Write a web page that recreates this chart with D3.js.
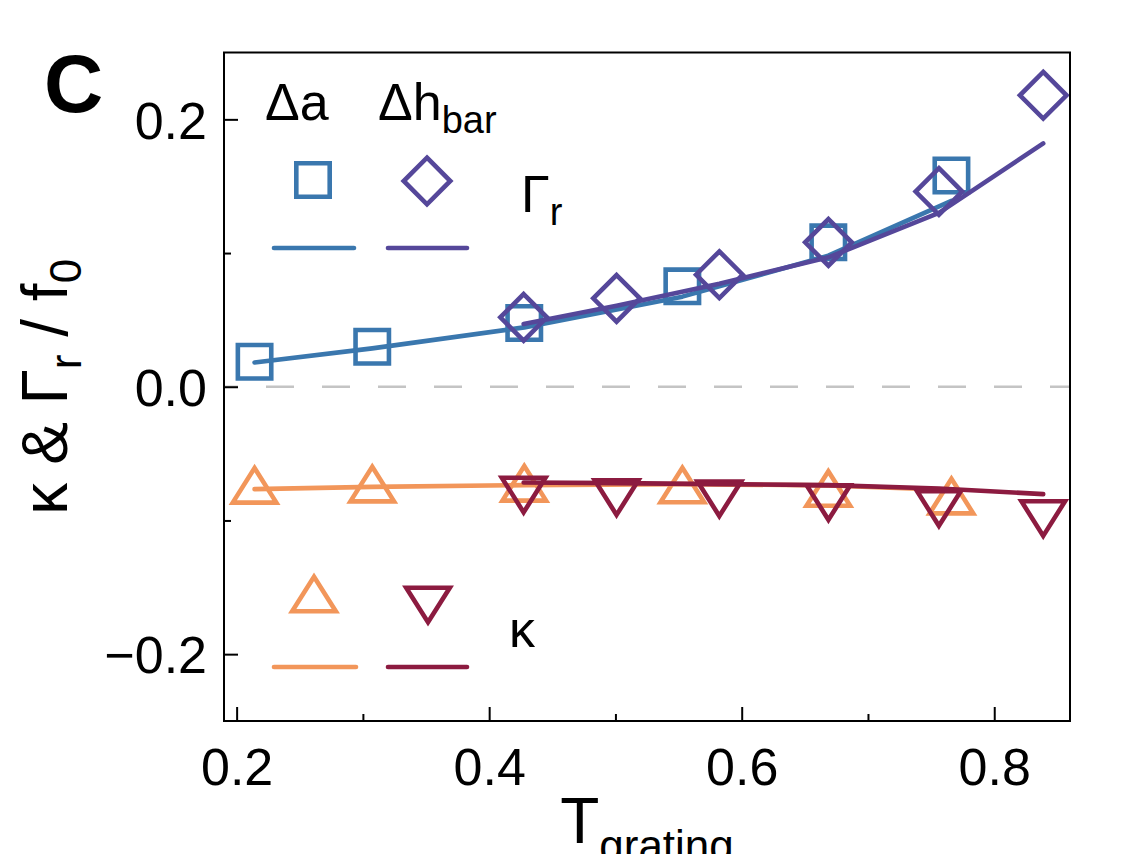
<!DOCTYPE html>
<html>
<head>
<meta charset="utf-8">
<script src="https://cdn.jsdelivr.net/npm/d3@7"></script>
<style>
  html, body { margin: 0; padding: 0; background: #fff; }
  svg { display: block; font-family: "Liberation Sans", Arial, sans-serif; }
</style>
</head>
<body>
<div id="chart"></div>
<script>
// T_grating of the two sweeps
const tA = [0.2142, 0.3074, 0.4278, 0.5530, 0.6686, 0.7661];   // Δa
const tH = [0.4273, 0.5009, 0.5823, 0.6687, 0.7562, 0.8388];   // Δh_bar

// Γr / f0
const gammaA    = [0.0187, 0.0299, 0.0477, 0.0751, 0.1080, 0.1580];
const gammaAFit = [0.0182, 0.0287, 0.0444, 0.0674, 0.0980, 0.1390];
const gammaH    = [0.0519, 0.0661, 0.0838, 0.1080, 0.1460, 0.2180];
const gammaHFit = [0.0469, 0.0606, 0.0771, 0.0968, 0.1300, 0.1820];

// κ / f0
const kappaA    = [-0.0737, -0.0728, -0.0722, -0.0735, -0.0761, -0.0818];
const kappaAFit = [-0.0766, -0.0749, -0.0736, -0.0728, -0.0738, -0.0772];
const kappaH    = [-0.0810, -0.0829, -0.0838, -0.0866, -0.0911, -0.0986];
const kappaHFit = [-0.0716, -0.0721, -0.0728, -0.0736, -0.0761, -0.0803];

const xMajor = [0.2, 0.4, 0.6, 0.8];
const xMinor = [0.3, 0.5, 0.7];
const yMajor = [-0.2, 0.0, 0.2];
const yMinor = [-0.1, 0.1];

const cBlue = "#3a77ae", cPurple = "#55479a", cOrange = "#f2965a", cRed = "#8c1b40";

const W = 1127, H = 854;
const pLeft = 224, pRight = 1070, pTop = 52.5, pBottom = 721;

const svg = d3.select("#chart").append("svg").attr("width", W).attr("height", H);

const x = d3.scaleLinear().domain([0.19, 0.86]).range([pLeft, pRight]);
const y = d3.scaleLinear().domain([-0.25, 0.25]).range([pBottom, pTop]);

// marker shapes (outline only)
function markerPath(kind) {
  if (kind === "square") { const s = 16.7; return `M${-s},${-s}H${s}V${s}H${-s}Z`; }
  if (kind === "diamond") { const s = 23.3; return `M0,${-s}L${s},0L0,${s}L${-s},0Z`; }
  const w = 21.8, h = 17.3;
  if (kind === "up") return `M0,${-h}L${w},${h}L${-w},${h}Z`;
  return `M0,${h}L${w},${-h}L${-w},${-h}Z`;
}

// zero line
svg.append("line")
  .attr("x1", pLeft).attr("x2", pRight)
  .attr("y1", y(0)).attr("y2", y(0))
  .attr("stroke", "#c4c4c4").attr("stroke-width", 2.5)
  .attr("stroke-dasharray", "28,28").attr("stroke-dashoffset", 14);

const line = d3.line().x(d => x(d[0])).y(d => y(d[1]));

function drawMarkers(ts, vs, kind, color) {
  svg.append("g").selectAll("path")
    .data(d3.zip(ts, vs))
    .join("path")
    .attr("transform", d => `translate(${x(d[0])},${y(d[1])})`)
    .attr("d", markerPath(kind))
    .attr("fill", "none").attr("stroke", color)
    .attr("stroke-width", 4.6).attr("stroke-linejoin", "miter");
}
function drawFit(ts, vs, color) {
  svg.append("path")
    .datum(d3.zip(ts, vs))
    .attr("d", line)
    .attr("fill", "none").attr("stroke", color)
    .attr("stroke-width", 4.6).attr("stroke-linecap", "round").attr("stroke-linejoin", "round");
}

drawMarkers(tA, gammaA, "square", cBlue);
drawMarkers(tA, kappaA, "up", cOrange);
drawFit(tA, gammaAFit, cBlue);
drawFit(tA, kappaAFit, cOrange);
drawMarkers(tH, gammaH, "diamond", cPurple);
drawMarkers(tH, kappaH, "down", cRed);
drawFit(tH, gammaHFit, cPurple);
drawFit(tH, kappaHFit, cRed);

// axes
function styleAxis(g) {
  g.select(".domain").remove();
  g.selectAll("line").attr("stroke", "#000").attr("stroke-width", 2);
  g.selectAll("text").attr("fill", "#000").attr("font-size", 52)
    .attr("font-family", "Liberation Sans, Arial, sans-serif");
}
svg.append("g").attr("transform", `translate(${pLeft},0)`)
  .call(d3.axisLeft(y).tickValues(yMajor).tickSize(-14).tickPadding(17)
    .tickFormat(d => d3.format(".1f")(d).replace("-", "\u2212")))
  .call(styleAxis)
  .selectAll("text").attr("dy", "0.36em");
svg.append("g").attr("transform", `translate(${pLeft},0)`)
  .call(d3.axisLeft(y).tickValues(yMinor).tickSize(-7).tickFormat(""))
  .call(styleAxis);
svg.append("g").attr("transform", `translate(0,${pBottom})`)
  .call(d3.axisBottom(x).tickValues(xMajor).tickSize(-14).tickPadding(27)
    .tickFormat(d3.format(".1f")))
  .call(styleAxis)
  .selectAll("text").attr("dy", "0.71em");
svg.append("g").attr("transform", `translate(0,${pBottom})`)
  .call(d3.axisBottom(x).tickValues(xMinor).tickSize(-7).tickFormat(""))
  .call(styleAxis);

// frame
svg.append("rect")
  .attr("x", pLeft).attr("y", pTop).attr("width", pRight - pLeft).attr("height", pBottom - pTop)
  .attr("fill", "none").attr("stroke", "#000").attr("stroke-width", 2);

// panel letter
svg.append("text").attr("x", 44).attr("y", 112)
  .attr("font-size", 82).attr("font-weight", "bold").text("C");

// axis labels (the reference crops the subscript at the bottom edge too)
const xl = svg.append("text").attr("x", (pLeft + pRight) / 2).attr("y", 843)
  .attr("text-anchor", "middle").attr("font-size", 64);
xl.append("tspan").text("T");
xl.append("tspan").attr("font-size", 44).attr("dy", 18).text("grating");

const yl = svg.append("text")
  .attr("transform", `translate(67,${(pTop + pBottom) / 2}) rotate(-90)`)
  .attr("text-anchor", "middle").attr("font-size", 64);
yl.append("tspan").text("\u03BA & \u0393");
yl.append("tspan").attr("font-size", 44).attr("dy", 14).text("r");
yl.append("tspan").attr("dy", -14).text(" / f");
yl.append("tspan").attr("font-size", 44).attr("dy", 14).text("0");

// legend
const leg = svg.append("g");
leg.append("text").attr("x", 265).attr("y", 120).attr("font-size", 52).text("\u0394a");
const lh = leg.append("text").attr("x", 378).attr("y", 120).attr("font-size", 52);
lh.append("tspan").text("\u0394h");
lh.append("tspan").attr("font-size", 38).attr("dy", 13).text("bar");

function legMarker(cx, cy, kind, color) {
  leg.append("path").attr("transform", `translate(${cx},${cy})`).attr("d", markerPath(kind))
    .attr("fill", "none").attr("stroke", color).attr("stroke-width", 4.6);
}
function legLine(x1, x2, yy, color) {
  leg.append("line").attr("x1", x1).attr("x2", x2).attr("y1", yy).attr("y2", yy)
    .attr("stroke", color).attr("stroke-width", 4.6).attr("stroke-linecap", "round");
}
legMarker(313, 180, "square", cBlue);
legMarker(427, 181, "diamond", cPurple);
legLine(274, 354, 248, cBlue);
legLine(388, 467, 248, cPurple);
const lg = leg.append("text").attr("x", 521).attr("y", 212).attr("font-size", 52);
lg.append("tspan").text("\u0393");
lg.append("tspan").attr("font-size", 38).attr("dy", 13).text("r");

legMarker(314, 594, "up", cOrange);
legMarker(428, 605, "down", cRed);
legLine(274, 356, 667, cOrange);
legLine(388, 467, 667, cRed);
leg.append("text").attr("x", 509).attr("y", 647).attr("font-size", 52).text("\u03BA");
</script>
</body>
</html>
